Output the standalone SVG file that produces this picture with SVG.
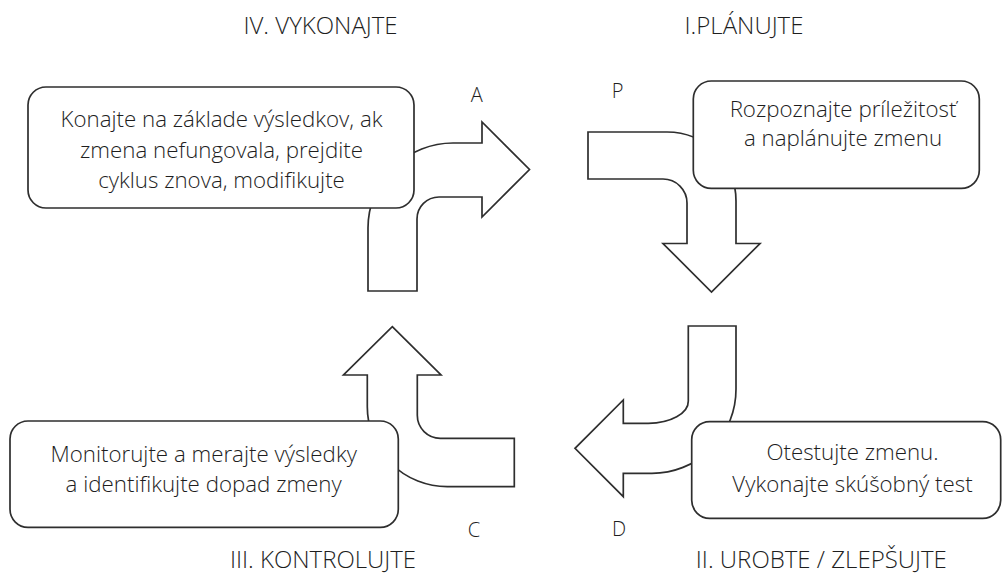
<svg xmlns="http://www.w3.org/2000/svg" width="1004" height="574" viewBox="0 0 1004 574">
<style>
.bg{fill:#ffffff}
.arrow{fill:#ffffff;stroke:#2e2e2e;stroke-width:1.7;stroke-linejoin:miter}
.box{fill:#ffffff;stroke:#2e2e2e;stroke-width:1.7}
text{font-family:"Open Sans","Liberation Sans",sans-serif;fill:#1e1e1e;font-weight:300}
.body{font-size:22.3px;text-anchor:middle}
.title{font-size:24px;text-anchor:middle}
.lbl{font-size:20px;text-anchor:middle}
</style>
<rect class="bg" x="0" y="0" width="1004" height="574"/>
<g id="connectors">
<path id="arrow-A" class="arrow" d="M 368 291 L 417 291 L 417 219 A 22 22 0 0 1 439 197 L 482 197 L 482 217 L 529.5 169.5 L 482 122 L 482 143 L 453 143 A 85 85 0 0 0 368 228 Z"/>
<path id="arrow-P" class="arrow" d="M 588 132 L 667 132 A 69 69 0 0 1 736 201 L 736 243.5 L 760 243.5 L 711.5 292 L 663 243.5 L 687 243.5 L 687 203 A 24 24 0 0 0 663 179 L 588 179 Z"/>
<path id="arrow-D" class="arrow" d="M 688.3 326 L 736 326 L 736 389 A 84 84 0 0 1 652 473.3 L 623.3 473.3 L 623.3 496.7 L 575 448.3 L 623.3 400 L 623.3 423.3 L 648 423.3 A 40 22 0 0 0 688.3 401 Z"/>
<path id="arrow-C" class="arrow" d="M 392.3 326.7 L 441 375 L 417.3 375 L 417.3 415.3 A 23 23 0 0 0 440.3 438.3 L 514.3 438.3 L 514.3 486.7 L 447.3 486.7 A 80 80 0 0 1 367.3 406.7 L 367.3 375 L 343.5 375 Z"/>
</g>
<g id="node-act">
<rect class="box" x="28" y="87" width="386" height="121" rx="18" ry="18"/>
<text class="body" x="221.5" y="126.7">Konajte na základe výsledkov, ak</text>
<text class="body" x="221.5" y="158">zmena nefungovala, prejdite</text>
<text class="body" x="221.5" y="188.3">cyklus znova, modifikujte</text>
</g>
<g id="node-plan">
<rect class="box" x="693.3" y="81" width="286" height="107.3" rx="18" ry="18"/>
<text class="body" x="843" y="117">Rozpoznajte príležitosť</text>
<text class="body" x="843" y="146">a naplánujte zmenu</text>
</g>
<g id="node-do">
<rect class="box" x="691.7" y="421.7" width="309" height="96.6" rx="18" ry="18"/>
<text class="body" x="852.5" y="460">Otestujte zmenu.</text>
<text class="body" x="852.5" y="491.7">Vykonajte skúšobný test</text>
</g>
<g id="node-check">
<rect class="box" x="10" y="421" width="388.3" height="106.3" rx="18" ry="18"/>
<text class="body" x="203.7" y="462.3">Monitorujte a merajte výsledky</text>
<text class="body" x="203.7" y="491.7">a identifikujte dopad zmeny</text>
</g>
<g id="titles">
<text class="title" x="320.5" y="34.3">IV. VYKONAJTE</text>
<text class="title" x="744" y="34.3">I.PLÁNUJTE</text>
<text class="title" x="323" y="568.3">III. KONTROLUJTE</text>
<text class="title" x="821.3" y="568.3">II. UROBTE / ZLEPŠUJTE</text>
</g>
<g id="labels">
<text class="lbl" x="476.8" y="102">A</text>
<text class="lbl" x="617.5" y="98">P</text>
<text class="lbl" x="474" y="537">C</text>
<text class="lbl" x="619" y="535.5">D</text>
</g>
</svg>
